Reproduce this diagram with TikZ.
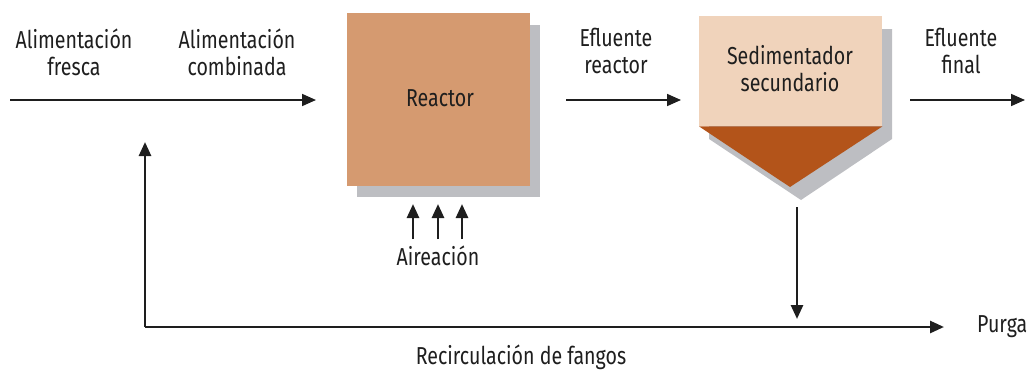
\documentclass[tikz,border=0pt]{standalone}
\usepackage{fontspec}
\setmainfont[FakeStretch=0.8]{Fira Sans}
\usetikzlibrary{arrows.meta}
\definecolor{reactorc}{HTML}{D59A70}
\definecolor{sedc}{HTML}{F0D3BB}
\definecolor{coneC}{HTML}{B3541A}
\definecolor{shadowc}{HTML}{BDBEC2}
\definecolor{txtc}{HTML}{1E1E1E}
\tikzset{
  lbl/.style={text=txtc, font=\fontsize{24.5}{27}\selectfont, align=center, inner sep=0pt},
  thinarrow/.style={line width=1.7pt, draw=txtc, -{Triangle[length=14pt,width=12pt]}},
  thickarrow/.style={line width=2.7pt, draw=txtc, -{Triangle[length=14pt,width=12pt]}},
}
\begin{document}
\begin{tikzpicture}[x=1pt,y=-1pt]
\useasboundingbox (0,0) rectangle (1030,372);
% shadows
\fill[shadowc] (357,25) rectangle (540,197);
\fill[shadowc] (709,29) -- (892,29) -- (892,139) -- (801,200) -- (709,139) -- cycle;
% reactor
\node[fill=reactorc, minimum width=183pt, minimum height=173pt, inner sep=0pt, anchor=north west] (reactor) at (347,13) {};
\node[lbl] (reactorlbl) at (440,98) {Reactor};
% sedimentador
\node[fill=sedc, minimum width=183pt, minimum height=110pt, inner sep=0pt, anchor=north west] (sed) at (699,16) {};
\fill[coneC] (sed.south west) -- (sed.south east) -- (790,187) coordinate (tip) -- cycle;
\node[lbl] (sedlbl) at (790,69) {Sedimentador\\secundario};
% coordinates
\coordinate (in0) at (10,100);
\coordinate (in1) at (316,100);
\coordinate (er0) at (566,100);
\coordinate (er1) at (681,100);
\coordinate (ef0) at (910,100);
\coordinate (ef1) at (1025,100);
\coordinate (d0) at (797,207);
\coordinate (d1) at (797,319);
\coordinate (b0) at (145,327);
\coordinate (b1) at (944,327);
\coordinate (u1) at (145,142);
% labels
\node[lbl] (lfresca) at (74,52) {Alimentación\\fresca};
\node[lbl] (lcomb) at (237,52) {Alimentación\\combinada};
\node[lbl] (lefr) at (616,51) {Efluente\\reactor};
\node[lbl] (lefin) at (961,51) {Efluente\\final};
\node[lbl] (laire) at (438,256) {Aireación};
\node[lbl, anchor=west] (lpurga) at (977,327) {Purga};
\node[lbl] (lrec) at (521,357) {Recirculación de fangos};
% arrows
\draw[thinarrow] (in0) -- (in1);
\draw[thinarrow] (er0) -- (er1);
\draw[thinarrow] (ef0) -- (ef1);
\draw[thickarrow] (d0) -- (d1);
\draw[thickarrow] (b0) -- (b1);
\draw[thickarrow] (b0) -- (u1);
\foreach \x/\n in {413/a1,438/a2,462/a3}{
  \coordinate (\n s) at (\x,239);
  \coordinate (\n e) at (\x,204);
  \draw[thickarrow] (\n s) -- (\n e);
}
\end{tikzpicture}
\end{document}
